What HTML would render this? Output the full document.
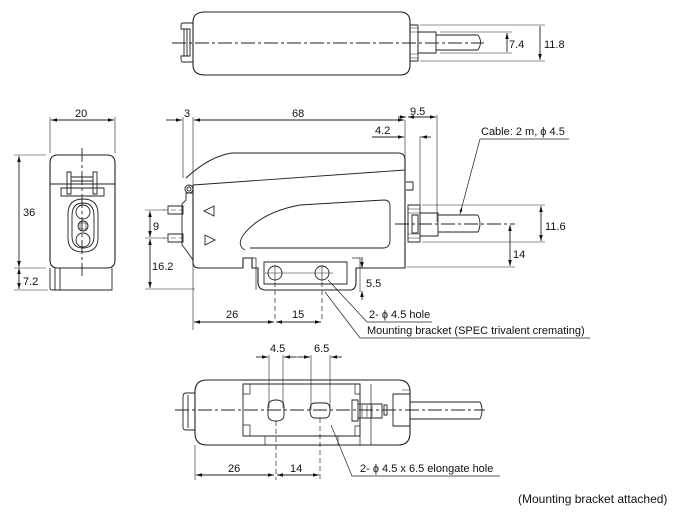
<!DOCTYPE html>
<html><head><meta charset="utf-8"><style>
html,body{margin:0;padding:0;background:#fff}
svg{display:block}
text{font-family:"Liberation Sans",sans-serif;font-size:11px;fill:#111}
</style></head><body>
<svg width="699" height="514" viewBox="0 0 699 514" xmlns="http://www.w3.org/2000/svg">
<defs>
<marker id="a" viewBox="0 0 10 6" refX="10" refY="3" markerWidth="7" markerHeight="4" orient="auto-start-reverse"><path d="M0,0L10,3L0,6z" fill="#111"/></marker>
</defs>
<g fill="none" stroke="#222" stroke-width="0.9">
<!-- TOP VIEW -->
<path d="M205,12 H400 Q410,12 410,22 V65 Q410,75 400,75 H205 Q193,75 193,65 V22 Q193,12 205,12z" stroke-width="1.1"/>
<path d="M193,23 H183 Q181,23 181,26 V29 H190 V56 H181 V59 Q181,62 183,62 H193"/>
<path d="M184,29V56M187,29V56"/>
<path d="M410,25H418V61H410z"/>
<path d="M410,28H418M410,32H418M410,54H418M410,58H418" stroke-width="0.6"/>
<path d="M418,32H436V53H418z"/>
<path d="M436,35H478M436,50H478M478,35Q483,42 478,50"/>
<path d="M172,43H484" stroke-dasharray="14,3,3,3"/>
<path d="M420,25H545M420,61H545M440,32H512M440,53H512" stroke-width="0.6"/>
<path d="M507,33V52M540,26V60" marker-start="url(#a)" marker-end="url(#a)"/>

<!-- FRONT VIEW -->
<path d="M58,155H107Q115,155 115,163V260Q115,268 107,268H58Q50,268 50,260V163Q50,155 58,155z" stroke-width="1.1"/>
<path d="M50,268V288Q50,290 52,290H112V268M55,268V290M60,268V290"/>
<path d="M50,184H115"/>
<path d="M67,172H71V194H67zM93,172H97V194H93zM61,188H104V196H61z"/>
<path d="M71,177H93M71,181H93"/>
<path d="M83,199Q98,199 98,214V238Q98,252 83,252Q68,252 68,238V214Q68,199 83,199z"/>
<path d="M83,203Q94,203 94,216V236Q94,248 83,248Q72,248 72,236V216Q72,203 83,203z"/>
<circle cx="83" cy="212" r="7"/><circle cx="83" cy="240" r="7"/><circle cx="83" cy="226" r="5"/>
<path d="M80,223H86V229H80z" stroke-width="0.6"/>
<path d="M82,148V276" stroke-dasharray="14,3,3,3"/>
<path d="M50,117V153M115,117V153M14,155H46M14,268H46M14,290H48" stroke-width="0.6"/>
<path d="M51,120H114" marker-start="url(#a)" marker-end="url(#a)"/>
<path d="M19,156V267" marker-start="url(#a)" marker-end="url(#a)"/>
<path d="M19,268V289" marker-start="url(#a)" marker-end="url(#a)"/>

<!-- SIDE VIEW -->
<path d="M193,185V262Q193,268 199,268H243V258H252V268L258,268V282Q258,290 266,290H350Q356,290 356,282V268H405V160Q405,153 398,153H232Q210,156 186,178" stroke-width="1.1"/>
<path d="M193,185L405,170"/>
<path d="M243,258H256V290M352,258H360V268" stroke-width="0.7"/>
<path d="M264,262H347V284H264z"/>
<circle cx="275" cy="273" r="7"/><circle cx="322" cy="273" r="7"/>
<path d="M265,273H333M275,265V281M322,265V281" stroke-width="0.6"/>
<path d="M275,282V320M322,282V320" stroke-dasharray="5,3" stroke-width="0.7"/>
<path d="M405,120V267M193,117V330M183,117V178" stroke-width="0.6"/>
<circle cx="189" cy="189" r="4"/><circle cx="189" cy="189" r="2"/>
<path d="M193,193H186V200L182,204V245L186,250L193,260"/>
<path d="M168,206H183V214H168zM168,234H183V242H168z"/>
<path d="M214,206L204,211L214,216zM205,235L215,240L205,245z"/>
<path d="M245,250Q236,245 244,234Q262,212 300,205L384,200Q390,200 390,206V240Q390,248 383,248H250"/>
<path d="M406,182H413V190M406,190H413"/>
<path d="M408,205H420V242H408z"/>
<path d="M408,209H420M408,213H420M408,234H420M408,238H420" stroke-width="0.6"/>
<path d="M412,215H418V233H412z"/>
<path d="M420,213H438V236H420z"/>
<path d="M438,215H478M438,232H478M478,215Q482,224 478,232"/>
<path d="M395,224H515" stroke-dasharray="14,3,3,3"/>
<path d="M163,210H182M163,238H182" stroke-dasharray="5,3" stroke-width="0.6"/>
<path d="M422,205H545M422,242H545M407,267H515M145,210H165M145,238H165M145,289H195" stroke-width="0.6"/>
<path d="M420,136V205M437,115V222M360,268V292" stroke-width="0.6"/>
<path d="M166,120H182" marker-end="url(#a)"/>
<path d="M194,120H404" marker-start="url(#a)" marker-end="url(#a)"/>
<path d="M398,117H406" marker-end="url(#a)"/>
<path d="M408,117H436" marker-start="url(#a)" marker-end="url(#a)"/>
<path d="M372,137H404" marker-end="url(#a)"/>
<path d="M431,137H421" marker-end="url(#a)"/>
<path d="M541,206V241" marker-start="url(#a)" marker-end="url(#a)"/>
<path d="M510,225V266" marker-start="url(#a)" marker-end="url(#a)"/>
<path d="M150,211V237" marker-start="url(#a)" marker-end="url(#a)"/>
<path d="M150,239V288" marker-start="url(#a)" marker-end="url(#a)"/>
<path d="M362,257V268" marker-end="url(#a)"/>
<path d="M362,300V291" marker-end="url(#a)"/>
<path d="M480,139H569M480,139L460,214" stroke-width="0.7"/>
<path d="M460,214L462,207" marker-end="url(#a)" stroke-width="0.7"/>
<path d="M194,322H274" marker-start="url(#a)" marker-end="url(#a)"/>
<path d="M276,322H321" marker-start="url(#a)" marker-end="url(#a)"/>
<path d="M367,322H432M367,322L328,280M360,338H590M360,338L325,292" stroke-width="0.7"/>

<!-- BOTTOM VIEW -->
<path d="M207,380H398Q410,380 410,392V433Q410,445 398,445H207Q195,445 195,433V392Q195,380 207,380z" stroke-width="1.1"/>
<path d="M195,393H186Q183,393 183,397V427Q183,430 186,430H195M188,395V428"/>
<path d="M243,384H360V436H243z"/>
<path d="M243,384V394H250V384M243,425H250V436M355,384V394H360M355,436V426H360M265,436V445M338,436V445M360,384V445M371,384V445" stroke-width="0.7"/>
<path d="M276,400Q284,400 284,407V415Q284,421 276,421Q268,421 268,415V407Q268,400 276,400z"/>
<path d="M315,403H325Q330,403 330,410Q330,418 325,418H315Q310,418 310,410Q310,403 315,403z"/>
<path d="M175,410H485" stroke-dasharray="14,3,3,3"/>
<path d="M352,400H358V421H352zM358,404H382V418H358z"/>
<path d="M362,405V417M367,405V417M372,405V417" stroke-width="0.6"/>
<path d="M384,405H387V415H384z"/>
<path d="M393,394H410V426H393z"/>
<path d="M402,390H410V430" stroke-width="0.6"/>
<path d="M410,402H480M410,419H480M480,402Q484,410 480,419"/>
<path d="M269,355V408M283,355V408M311,355V410M330,355V410" stroke-width="0.6"/>
<path d="M195,445V480" stroke-width="0.6"/>
<path d="M276,421V480M320,418V480" stroke-dasharray="5,3" stroke-width="0.7"/>
<path d="M256,357H268" marker-end="url(#a)"/>
<path d="M296,357H284" marker-end="url(#a)"/>
<path d="M298,357H310" marker-end="url(#a)"/>
<path d="M342,357H331" marker-end="url(#a)"/>
<path d="M284,357H298" stroke-width="0.6"/>
<path d="M196,475H274" marker-start="url(#a)" marker-end="url(#a)"/>
<path d="M277,475H319" marker-start="url(#a)" marker-end="url(#a)"/>
<path d="M352,476H500M352,476L331,425" stroke-width="0.7"/>
</g>
<g>
<text x="509" y="48">7.4</text>
<text x="544" y="48">11.8</text>
<text x="75" y="117">20</text>
<text x="23" y="216">36</text>
<text x="23" y="285">7.2</text>
<text x="184" y="117">3</text>
<text x="292" y="117">68</text>
<text x="410" y="115">9.5</text>
<text x="375" y="134">4.2</text>
<text x="481" y="135">Cable: 2 m,  ϕ 4.5</text>
<text x="545" y="230">11.6</text>
<text x="513" y="258">14</text>
<text x="153" y="230">9</text>
<text x="152" y="270">16.2</text>
<text x="366" y="287">5.5</text>
<text x="226" y="318">26</text>
<text x="292" y="318">15</text>
<text x="369" y="318">2-  ϕ 4.5 hole</text>
<text x="367" y="334">Mounting bracket (SPEC trivalent cremating)</text>
<text x="270" y="352">4.5</text>
<text x="314" y="352">6.5</text>
<text x="228" y="472">26</text>
<text x="290" y="472">14</text>
<text x="360" y="472">2-  ϕ 4.5 x 6.5 elongate hole</text>
<text x="518" y="503" style="font-size:12px">(Mounting bracket attached)</text>
</g>
</svg>
</body></html>
